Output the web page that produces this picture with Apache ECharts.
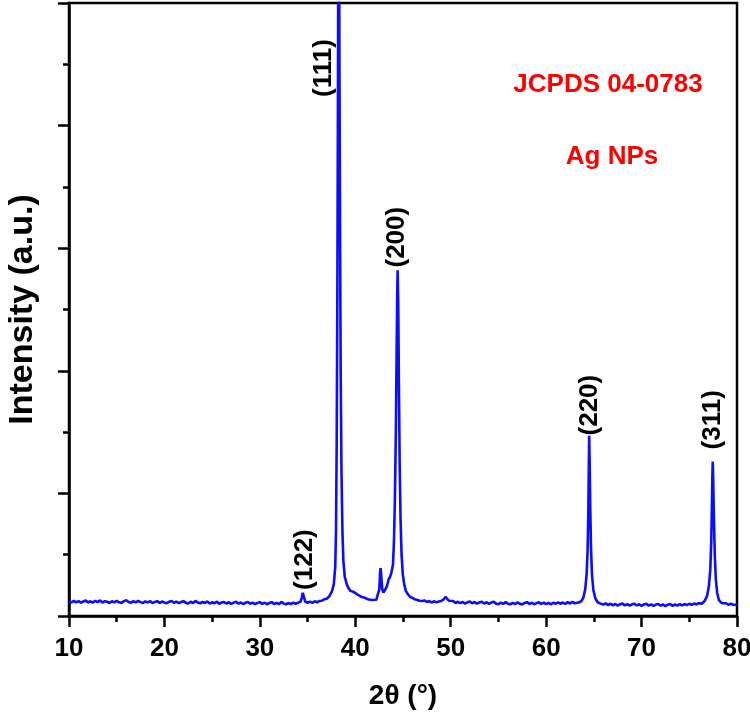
<!DOCTYPE html>
<html>
<head>
<meta charset="utf-8">
<script src="https://cdn.jsdelivr.net/npm/echarts@6/dist/echarts.min.js"></script>
<style>
html,body{margin:0;padding:0;background:#fff;}
#chart{width:750px;height:712px;}
</style>
</head>
<body>
<div id="chart"></div>
<script>
// XRD pattern of Ag NPs: [2theta (deg), intensity (a.u.)]
const xrdPattern = [
[10.00,.118],[10.25,.110],[10.50,.123],[10.75,.112],[11.00,.121],[11.25,.108],[11.50,.119],[11.75,.126],
[12.00,.111],[12.25,.120],[12.50,.109],[12.75,.123],[13.00,.113],[13.25,.127],[13.50,.110],[13.75,.121],
[14.00,.116],[14.25,.106],[14.50,.120],[14.75,.111],[15.00,.124],[15.25,.112],[15.50,.107],[15.75,.121],
[16.00,.128],[16.25,.114],[16.50,.108],[16.75,.121],[17.00,.111],[17.25,.123],[17.50,.113],[17.75,.106],
[18.00,.119],[18.25,.110],[18.50,.122],[18.75,.105],[19.00,.115],[19.25,.121],[19.50,.107],[19.75,.118],
[20.00,.110],[20.25,.104],[20.50,.117],[20.75,.122],[21.00,.108],[21.25,.118],[21.50,.105],[21.75,.114],
[22.00,.121],[22.25,.107],[22.50,.102],[22.75,.116],[23.00,.106],[23.25,.123],[23.50,.110],[23.75,.104],
[24.00,.114],[24.25,.106],[24.50,.119],[24.75,.101],[25.00,.112],[25.25,.104],[25.50,.117],[25.75,.100],
[26.00,.110],[26.25,.114],[26.50,.102],[26.75,.112],[27.00,.099],[27.25,.109],[27.50,.116],[27.75,.101],
[28.00,.110],[28.25,.098],[28.50,.108],[28.75,.114],[29.00,.100],[29.25,.109],[29.50,.097],[29.75,.107],
[30.00,.113],[30.25,.099],[30.50,.108],[30.75,.096],[31.00,.106],[31.25,.113],[31.50,.098],[31.75,.107],
[32.00,.096],[32.25,.115],[32.50,.101],[32.75,.095],[33.00,.106],[33.25,.097],[33.50,.109],[33.75,.100],
[34.00,.108],[34.25,.115],[34.40,.150],[34.50,.190],[34.60,.160],[34.75,.118],[35.00,.108],[35.25,.117],
[35.50,.107],[35.75,.120],[36.00,.112],[36.25,.123],[36.50,.125],[36.75,.136],[37.00,.140],[37.30,.163],
[37.55,.200],[37.75,.260],[37.90,.400],[37.98,.700],[38.05,1.40],[38.12,2.60],[38.18,4.20],[38.25,6.50],
[38.32,5.00],[38.40,3.20],[38.47,2.00],[38.55,1.20],[38.65,.700],[38.75,.450],[38.90,.320],[39.10,.260],
[39.30,.225],[39.50,.205],[39.70,.218],[39.85,.195],[40.00,.188],[40.20,.176],[40.40,.167],[40.60,.158],
[40.80,.152],[41.00,.149],[41.20,.141],[41.40,.134],[41.60,.143],[41.80,.130],[42.00,.138],[42.20,.132],
[42.40,.145],[42.52,.220],[42.60,.360],[42.66,.390],[42.72,.330],[42.82,.220],[42.95,.190],[43.10,.200],
[43.30,.240],[43.50,.300],[43.65,.320],[43.80,.360],[43.95,.420],[44.05,.600],[44.15,.950],[44.25,1.50],
[44.33,2.15],[44.40,2.65],[44.44,2.82],[44.50,2.55],[44.57,1.90],[44.65,1.25],[44.74,.800],[44.85,.500],
[44.98,.340],[45.12,.260],[45.30,.205],[45.50,.178],[45.75,.155],[46.00,.147],[46.25,.136],[46.50,.131],
[46.75,.124],[47.00,.122],[47.25,.127],[47.50,.114],[47.75,.122],[48.00,.110],[48.25,.120],[48.50,.111],
[48.75,.118],[49.00,.122],[49.25,.135],[49.45,.155],[49.60,.145],[49.80,.125],[50.00,.114],[50.25,.122],
[50.50,.106],[50.75,.116],[51.00,.105],[51.25,.114],[51.50,.101],[51.75,.112],[52.00,.118],[52.25,.104],
[52.50,.114],[52.75,.100],[53.00,.111],[53.25,.117],[53.50,.102],[53.75,.112],[54.00,.099],[54.25,.110],
[54.50,.116],[54.75,.101],[55.00,.096],[55.25,.109],[55.50,.098],[55.75,.113],[56.00,.100],[56.25,.095],
[56.50,.108],[56.75,.097],[57.00,.111],[57.25,.099],[57.50,.094],[57.75,.107],[58.00,.113],[58.25,.098],
[58.50,.108],[58.75,.096],[59.00,.105],[59.25,.112],[59.50,.098],[59.75,.109],[60.00,.097],[60.25,.107],
[60.50,.095],[60.75,.108],[61.00,.100],[61.25,.112],[61.50,.100],[61.75,.110],[62.00,.098],[62.25,.113],
[62.50,.102],[62.75,.115],[63.00,.104],[63.20,.116],[63.40,.110],[63.70,.122],[63.90,.150],[64.10,.220],
[64.25,.350],[64.35,.550],[64.42,.850],[64.47,1.20],[64.51,1.47],[64.56,1.25],[64.62,.900],[64.70,.560],
[64.80,.340],[64.95,.210],[65.15,.145],[65.40,.112],[65.70,.101],[66.00,.093],[66.25,.103],[66.50,.089],
[66.75,.100],[67.00,.087],[67.25,.098],[67.50,.085],[67.75,.096],[68.00,.101],[68.25,.087],[68.50,.097],
[68.75,.084],[69.00,.095],[69.25,.100],[69.50,.086],[69.75,.096],[70.00,.083],[70.25,.094],[70.50,.099],
[70.75,.085],[71.00,.095],[71.25,.082],[71.50,.093],[71.75,.098],[72.00,.084],[72.25,.094],[72.50,.081],
[72.75,.092],[73.00,.097],[73.25,.083],[73.50,.094],[73.75,.085],[74.00,.096],[74.25,.086],[74.50,.098],
[74.75,.088],[75.00,.100],[75.25,.090],[75.50,.102],[75.75,.094],[76.00,.105],[76.30,.100],[76.60,.122],
[76.85,.160],[77.05,.240],[77.20,.380],[77.30,.600],[77.37,.900],[77.42,1.15],[77.46,1.26],[77.51,1.10],
[77.58,.800],[77.67,.500],[77.78,.300],[77.92,.190],[78.10,.130],[78.40,.105],[78.60,.096],[78.85,.104],
[79.10,.092],[79.35,.101],[79.60,.090],[79.80,.102],[80.00,.094]
];

// Miller index annotations (label centre positions in data units)
const peakLabels = ['(122)', '(111)', '(200)', '(220)', '(311)'];
const peakLabelX = [34.7, 36.7, 44.35, 64.6, 77.5];
const peakLabelY = [0.46, 4.47, 3.09, 1.72, 1.60];

const xTicks = [10, 20, 30, 40, 50, 60, 70, 80];

const FONT = '"Liberation Sans", Arial, sans-serif';
const chart = echarts.init(document.getElementById('chart'), null, {renderer: 'canvas'});

chart.setOption({
  animation: false,
  backgroundColor: '#ffffff',
  grid: {
    left: 69, right: 13, top: 3, bottom: 96,
    outerBoundsMode: 'none', containLabel: false,
    show: true, borderColor: '#000', borderWidth: 2.5, backgroundColor: 'transparent'
  },
  xAxis: {
    type: 'value', min: xTicks[0], max: xTicks[xTicks.length - 1], interval: 10,
    name: '2\u03B8 (\u00B0)', nameLocation: 'middle', nameGap: 66,
    nameTextStyle: {fontFamily: FONT, fontWeight: 'bold', fontSize: 28, color: '#000'},
    axisLine: {lineStyle: {color: '#000', width: 2.5}},
    axisTick: {show: true, inside: false, length: 11, lineStyle: {color: '#000', width: 2.5}},
    minorTick: {show: true, splitNumber: 2, length: 6, lineStyle: {color: '#000', width: 2.5}},
    splitLine: {show: false},
    axisLabel: {fontFamily: FONT, fontWeight: 'bold', fontSize: 26, color: '#000', margin: 20}
  },
  yAxis: {
    type: 'value', min: 0, max: 5, interval: 1,
    name: 'Intensity (a.u.)', nameLocation: 'middle', nameGap: 29, nameRotate: 90,
    nameTextStyle: {fontFamily: FONT, fontWeight: 'bold', fontSize: 34, color: '#000'},
    axisLine: {lineStyle: {color: '#000', width: 2.5}},
    axisTick: {show: true, inside: false, length: 11, lineStyle: {color: '#000', width: 2.5}},
    minorTick: {show: true, splitNumber: 2, length: 6, lineStyle: {color: '#000', width: 2.5}},
    splitLine: {show: false},
    axisLabel: {show: false}
  },
  series: [
    {
      type: 'line', data: xrdPattern, showSymbol: false, clip: true,
      lineStyle: {color: '#0c0cff', width: 2.6}, z: 3
    },
    {
      type: 'scatter', symbolSize: 0.1, itemStyle: {color: '#000', opacity: 1},
      silent: true, emphasis: {disabled: true},
      data: peakLabels.map((n, i) => ({name: n, value: [peakLabelX[i], peakLabelY[i]]})),
      label: {
        show: true, position: 'inside', rotate: 90, formatter: '{b}',
        fontFamily: FONT, fontWeight: 'bold', fontSize: 26, color: '#000',
        textBorderWidth: 0, opacity: 1
      },
      z: 4
    }
  ],
  graphic: [
    {type: 'text', x: 608, y: 85, style: {text: 'JCPDS 04-0783', fill: '#ff0000', font: 'bold 26px ' + FONT, align: 'center', verticalAlign: 'middle'}},
    {type: 'text', x: 612, y: 157, style: {text: 'Ag NPs', fill: '#ff0000', font: 'bold 26px ' + FONT, align: 'center', verticalAlign: 'middle'}}
  ]
});
</script>
</body>
</html>
